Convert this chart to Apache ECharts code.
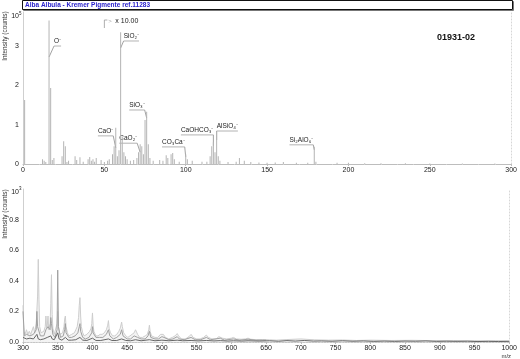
<!DOCTYPE html>
<html><head><meta charset="utf-8">
<script src="https://cdn.jsdelivr.net/npm/echarts@6/dist/echarts.min.js"></script>
<style>html,body{margin:0;padding:0;background:#fff}#c{width:520px;height:359px}</style>
</head><body><div id="c"></div>
<script>
// ---------- data ----------
const chartTitle = 'Alba Albula - Kremer Pigmente ref.11283';
const sampleId = '01931-02';
const yAxisTitle = 'Intensity (counts)';
const xAxisTitle = 'm/z';
const scaleNote = 'x 10.00';
const scaleNoteMz = 50;
const topExponent = '5';
const lowExponent = '3';

// upper panel: m/z 0-300, stick spectrum (units of 10^5 counts, as displayed)
const topMz = [1,12,13,14,16,17,18,19,24,25,26,27,28,32,33,35,37,40,41,42,43,44,45,48,50,52,53,55,56,57,58,59,60,61,62,63,64,66,68,70,71,72,73,74,75,76,77,78,80,84,86,88,89,91,92,93,96,100,101,104,110,113,115,116,117,118,119,120,121,126,131,133,136,140,145,150,155,160,168,175,179,180,193,200,210,220,235,250,270,290];
const topVal = [1.63,0.12,0.08,0.05,3.65,1.93,0.1,0.15,0.2,0.58,0.45,0.05,0.08,0.2,0.1,0.17,0.06,0.12,0.18,0.08,0.12,0.06,0.15,0.1,0.05,0.08,0.12,0.25,0.45,0.92,0.2,0.35,3.35,0.7,0.3,0.2,0.12,0.08,0.1,0.15,0.3,0.5,0.45,0.25,1.12,1.33,0.5,0.15,0.08,0.1,0.08,0.22,0.15,0.25,0.28,0.12,0.06,0.25,0.12,0.08,0.06,0.06,0.2,0.45,0.55,0.3,0.82,0.2,0.08,0.05,0.06,0.15,0.08,0.05,0.04,0.03,0.04,0.05,0.03,0.03,0.44,0.06,0.03,0.03,0.02,0.02,0.02,0.015,0.015,0.01];

// peak annotations
const annMz = [16,60,76,57,72,100,117,119,179];
const annAt = [2.72,2.95,1.17,0.41,0.3,0.18,0.46,0.61,0.36];
const annText = ['O⁻','SiO₂⁻','SiO₃⁻','CaO⁻','CaO₂⁻','CO₃Ca⁻','CaOHCO₃⁻','AlSiO₄⁻','Si₂AlO₆⁻'];

// lower panel: m/z 300-1000 (units of 10^3 counts), three overlaid traces
const lightTrace = [[300,0.24],[301,0.07],[303,0.05],[305,0.08],[307,0.05],[309,0.07],[311,0.05],[313,0.06],[315,0.1],[317,0.06],[319,0.12],[321,0.3],[322,0.54],[323,0.28],[324,0.1],[326,0.06],[328,0.05],[330,0.07],[332,0.1],[333,0.17],[334,0.09],[335,0.11],[336,0.17],[337,0.08],[339,0.12],[340,0.25],[341,0.44],[342,0.18],[343,0.09],[345,0.05],[347,0.06],[349,0.12],[350,0.2],[351,0.1],[353,0.05],[355,0.04],[357,0.06],[359,0.1],[360,0.15],[361,0.17],[362,0.1],[364,0.06],[366,0.04],[368,0.04],[370,0.05],[372,0.05],[374,0.06],[376,0.08],[378,0.1],[380,0.16],[381,0.24],[382,0.29],[383,0.17],[384,0.1],[386,0.06],[388,0.04],[390,0.04],[392,0.05],[394,0.05],[396,0.07],[398,0.09],[399,0.12],[400,0.19],[401,0.11],[402,0.07],[405,0.04],[408,0.04],[411,0.05],[414,0.05],[417,0.06],[420,0.08],[422,0.11],[423,0.14],[424,0.09],[426,0.06],[429,0.04],[432,0.04],[435,0.05],[438,0.07],[440,0.09],[442,0.13],[443,0.1],[445,0.06],[448,0.04],[451,0.03],[454,0.04],[457,0.05],[460,0.06],[462,0.08],[463,0.07],[465,0.05],[468,0.03],[472,0.03],[476,0.04],[479,0.05],[481,0.08],[482,0.11],[483,0.07],[485,0.04],[490,0.03],[494,0.03],[498,0.05],[500,0.06],[502,0.05],[505,0.03],[510,0.02],[515,0.03],[519,0.04],[522,0.055],[524,0.04],[528,0.02],[534,0.02],[539,0.035],[542,0.05],[545,0.03],[550,0.02],[555,0.02],[560,0.03],[564,0.045],[567,0.03],[572,0.02],[578,0.02],[582,0.035],[584,0.042],[587,0.025],[593,0.02],[600,0.025],[603,0.03],[607,0.02],[614,0.018],[620,0.02],[624,0.025],[628,0.018],[636,0.015],[645,0.016],[655,0.014],[665,0.012],[680,0.016],[700,0.02],[720,0.014],[740,0.012],[760,0.013],[780,0.01],[800,0.012],[830,0.01],[860,0.011],[890,0.009],[920,0.01],[950,0.008],[980,0.009],[1000,0.008]];
const midTrace = [[300,0.2],[302,0.04],[305,0.05],[310,0.04],[315,0.05],[319,0.08],[320,0.2],[321,0.1],[325,0.04],[330,0.04],[333,0.08],[336,0.1],[339,0.08],[340,0.16],[341,0.12],[343,0.05],[346,0.03],[349,0.08],[350,0.47],[351,0.1],[354,0.03],[358,0.04],[360,0.08],[361,0.12],[362,0.06],[366,0.03],[370,0.03],[375,0.04],[379,0.06],[381,0.1],[382,0.12],[383,0.07],[386,0.03],[390,0.02],[395,0.03],[399,0.06],[400,0.1],[401,0.06],[405,0.03],[410,0.03],[415,0.03],[420,0.05],[423,0.08],[425,0.04],[430,0.02],[435,0.03],[440,0.05],[442,0.08],[444,0.04],[450,0.02],[455,0.02],[460,0.04],[462,0.05],[465,0.03],[470,0.02],[476,0.02],[480,0.04],[482,0.07],[484,0.03],[490,0.02],[495,0.02],[500,0.035],[503,0.03],[510,0.015],[516,0.02],[522,0.035],[525,0.02],[532,0.015],[542,0.03],[548,0.015],[556,0.015],[564,0.03],[570,0.015],[584,0.025],[590,0.012],[603,0.02],[612,0.012],[624,0.018],[635,0.012],[650,0.012]];
const darkTrace = [[300,0.03],[305,0.02],[310,0.025],[315,0.02],[320,0.05],[322,0.02],[325,0.015],[330,0.02],[335,0.03],[340,0.04],[342,0.02],[345,0.015],[350,0.06],[352,0.02],[356,0.012],[361,0.03],[365,0.012],[370,0.012],[376,0.015],[382,0.03],[386,0.012],[392,0.01],[400,0.025],[405,0.01],[412,0.01],[423,0.02],[428,0.01],[435,0.01],[442,0.02],[448,0.01],[455,0.008],[462,0.015],[470,0.008],[482,0.015],[490,0.008],[500,0.012],[510,0.008],[522,0.012],[530,0.008],[542,0.01],[552,0.007],[564,0.01],[575,0.007],[584,0.009],[595,0.006],[603,0.008],[615,0.006],[624,0.008],[640,0.006],[655,0.008],[668,0.005],[680,0.009],[692,0.006],[705,0.01],[718,0.006],[730,0.007],[745,0.005],[760,0.008],[775,0.005],[790,0.007],[805,0.004],[820,0.006],[835,0.004],[850,0.006],[865,0.005],[880,0.007],[895,0.004],[910,0.005],[925,0.004],[940,0.005],[955,0.003],[970,0.004],[985,0.003],[1000,0.004]];

// ---------- chart ----------
const FONT = '"Liberation Sans", Arial, sans-serif';
const chart = echarts.init(document.getElementById('c'), null, {renderer: 'canvas'});

function xAx(gi, min, max) {
  return {
    type: 'value', gridIndex: gi, min: min, max: max, interval: 50,
    axisLine: {lineStyle: {color: '#bdbdbd', width: 1}},
    axisTick: {show: true, length: 2, lineStyle: {color: '#bdbdbd'}},
    minorTick: {show: true, splitNumber: 5, length: 1, lineStyle: {color: '#d0d0d0'}},
    splitLine: {show: false},
    axisLabel: {fontSize: 7, color: '#222', fontFamily: FONT, margin: 3, showMinLabel: true, showMaxLabel: true, formatter: v => String(v)}
  };
}
function yAx(gi, max, interval, fmt) {
  return {
    type: 'value', gridIndex: gi, min: 0, max: max, interval: interval,
    axisLine: {show: true, lineStyle: {color: '#cfcfcf', width: 1}},
    axisTick: {show: false},
    splitLine: {show: false},
    axisLabel: {fontSize: 7, color: '#222', fontFamily: FONT, margin: 4, formatter: fmt}
  };
}
function borderAx(gi, pos) {
  return {
    type: 'value', gridIndex: gi, position: pos, min: 0, max: 1,
    axisLine: {show: true, lineStyle: {color: '#d6d6d6', type: [1, 2], width: 1}},
    axisTick: {show: false}, axisLabel: {show: false}, splitLine: {show: false}
  };
}

const option = {
  animation: false,
  backgroundColor: '#fff',
  grid: [
    {left: 23, top: 12, width: 490, height: 152},
    {left: 23, top: 189, width: 490, height: 153}
  ],
  xAxis: [xAx(0, 0, 300), xAx(1, 300, 1000), borderAx(1, 'top')],
  yAxis: [
    yAx(0, 3.865, 1, v => (Math.abs(v - Math.round(v)) < 1e-6 && v < 3.5) ? String(v) : ''),
    yAx(1, 1, 0.2, v => v < 0.99 ? v.toFixed(1) : ''),
    borderAx(0, 'right'),
    borderAx(1, 'right')
  ],
  series: [
    {
      type: 'bar', xAxisIndex: 0, yAxisIndex: 0, barWidth: 1, barGap: '-100%',
      itemStyle: {color: '#b4b4b4'},
      data: topMz.map((m, i) => [m, topVal[i]])
    },
    {
      type: 'line', xAxisIndex: 1, yAxisIndex: 1, symbol: 'none',
      lineStyle: {color: '#cdcdcd', width: 1},
      areaStyle: {color: 'rgba(205,205,205,0.35)'},
      data: lightTrace
    },
    {
      type: 'line', xAxisIndex: 1, yAxisIndex: 1, symbol: 'none',
      lineStyle: {color: '#a0a0a0', width: 1},
      data: midTrace
    },
    {
      type: 'line', xAxisIndex: 1, yAxisIndex: 1, symbol: 'none',
      lineStyle: {color: '#666', width: 1},
      data: darkTrace
    }
  ]
};
chart.setOption(option);

// ---------- annotations & texts ----------
const meas = document.createElement('canvas').getContext('2d');
function textW(t, size, weight) {
  meas.font = (weight || 'normal') + ' ' + size + 'px ' + FONT;
  return meas.measureText(t).width;
}
// label placement: offset (px) of underline connection point from the leader's attach point,
// and which end of the underline the leader connects to
const annDx = [5, 3, -2, -2.5, -3, -1, 0, 0, -1];
const annDy = [-11, -7, -8, -12, -9, -10, -11, -9, -5];
const annSide = ['left', 'left', 'right', 'right', 'right', 'right', 'right', 'left', 'right'];

const g = [];
const AF = 6.5;
annMz.forEach((m, i) => {
  const p = chart.convertToPixel({xAxisIndex: 0, yAxisIndex: 0}, [m, annAt[i]]);
  const cx = p[0] + annDx[i], cy = p[1] + annDy[i];
  const w = textW(annText[i], AF);
  const x0 = annSide[i] === 'left' ? cx : cx - w;
  g.push({type: 'line', silent: true, shape: {x1: p[0], y1: p[1], x2: cx, y2: cy}, style: {stroke: '#8a8a8a', lineWidth: 0.8}});
  g.push({type: 'line', silent: true, shape: {x1: x0, y1: cy, x2: x0 + w, y2: cy}, style: {stroke: '#a0a0a0', lineWidth: 0.8}});
  g.push({type: 'text', silent: true, x: x0, y: cy - 1, style: {text: annText[i], font: 'normal ' + AF + 'px ' + FONT, fill: '#222', textAlign: 'left', textVerticalAlign: 'bottom'}});
});

// scale-change marker
const sm = chart.convertToPixel({xAxisIndex: 0, yAxisIndex: 0}, [scaleNoteMz, 0]);
const sy = 20;
g.push({type: 'polyline', silent: true, shape: {points: [[sm[0], sy + 8], [sm[0], sy], [sm[0] + 3, sy]]}, style: {stroke: '#999', lineWidth: 0.8, fill: null}});
g.push({type: 'text', silent: true, x: sm[0] + 4, y: sy + 1, style: {text: '>', font: 'normal 6px ' + FONT, fill: '#aaa', textVerticalAlign: 'middle'}});
g.push({type: 'text', silent: true, x: sm[0] + 11, y: sy + 1, style: {text: scaleNote, font: 'normal 7px ' + FONT, fill: '#222', textVerticalAlign: 'middle'}});

// title box
g.push({type: 'rect', silent: true, shape: {x: 23.5, y: 1.5, width: 490, height: 9}, style: {fill: '#fff', stroke: '#777', lineWidth: 1}, z: 1});
g.push({type: 'rect', silent: true, shape: {x: 22.5, y: 0.5, width: 490, height: 9}, style: {fill: '#fff', stroke: '#111', lineWidth: 1}, z: 2});
g.push({type: 'text', silent: true, x: 25, y: 5.5, z: 3, style: {text: chartTitle, font: 'bold 6.5px ' + FONT, fill: '#2a22cc', textVerticalAlign: 'middle'}});

// sample id
g.push({type: 'text', silent: true, x: 456, y: 38, style: {text: sampleId, font: 'bold 9px ' + FONT, fill: '#111', textAlign: 'center', textVerticalAlign: 'middle'}});

// exponent labels at axis tops
function expo(gi, ymax, e, dy) {
  const p = chart.convertToPixel({xAxisIndex: gi, yAxisIndex: gi}, [gi === 0 ? 0 : 300, ymax]);
  g.push({type: 'text', silent: true, x: p[0] - 4, y: p[1] + dy + 1.5, style: {text: '10', font: 'normal 7px ' + FONT, fill: '#222', textAlign: 'right', textVerticalAlign: 'middle'}});
  g.push({type: 'text', silent: true, x: p[0] - 4, y: p[1] + dy - 1.5, style: {text: e, font: 'normal 4.5px ' + FONT, fill: '#222', textAlign: 'left', textVerticalAlign: 'middle'}});
}
expo(0, 3.865, topExponent, 3);
expo(1, 1, lowExponent, 1.5);

// y-axis titles (rotated)
[[5, 36], [5, 214]].forEach(pos => {
  g.push({type: 'text', silent: true, x: pos[0], y: pos[1], rotation: Math.PI / 2,
    style: {text: yAxisTitle, font: 'normal 6.5px ' + FONT, fill: '#333', textAlign: 'center', textVerticalAlign: 'middle'}});
});
// x-axis title
const mp = chart.convertToPixel({xAxisIndex: 1, yAxisIndex: 1}, [1000, 0]);
g.push({type: 'text', silent: true, x: mp[0] - 3, y: mp[1] + 14, style: {text: xAxisTitle, font: 'normal 6px ' + FONT, fill: '#333', textAlign: 'center', textVerticalAlign: 'middle'}});

chart.setOption({graphic: g});
</script>
</body></html>
